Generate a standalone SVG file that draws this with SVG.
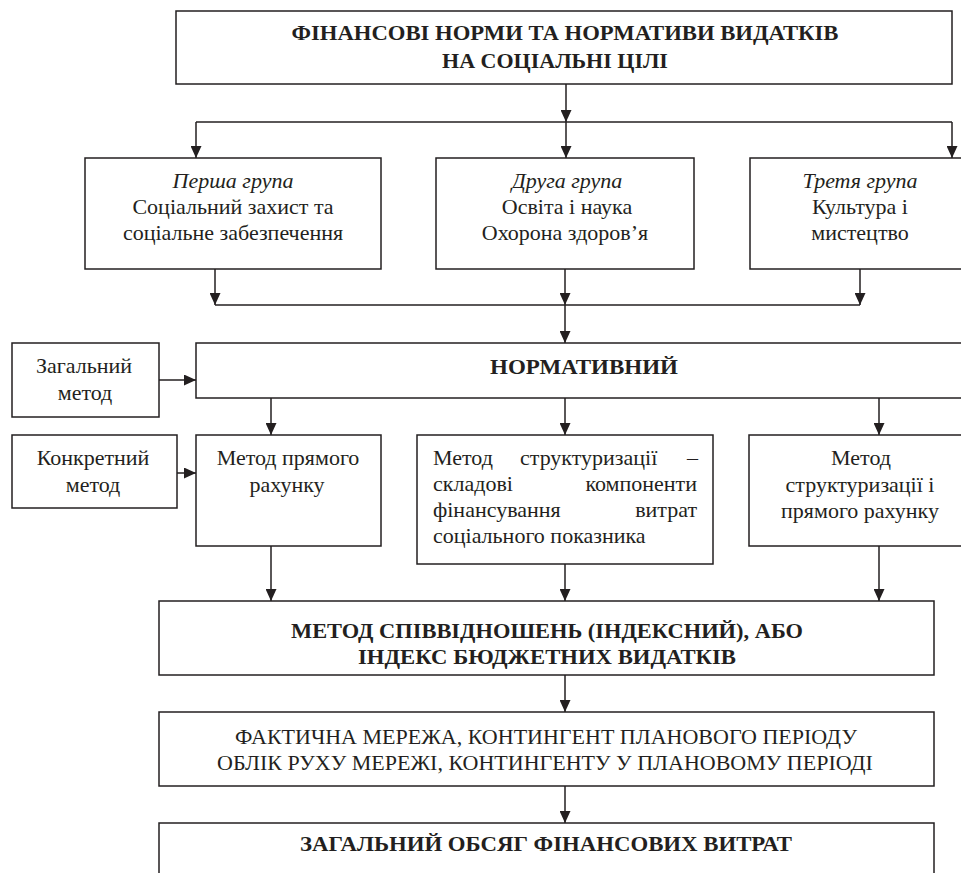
<svg xmlns="http://www.w3.org/2000/svg" width="961" height="873" viewBox="0 0 961 873">
<style>
.box{fill:#fff;stroke:#231f20;stroke-width:1.5}
.ln{fill:none;stroke:#231f20;stroke-width:1.5}
text{font-family:"Liberation Serif","Times New Roman",serif;font-size:22px;fill:#231f20}
.c{text-anchor:middle}
.b{font-weight:bold}
.i{font-style:italic}
.e{text-anchor:end}
</style>
<defs>
<marker id="ah" markerUnits="userSpaceOnUse" markerWidth="12" markerHeight="11" refX="12" refY="5.5" orient="auto">
<path d="M0,0 L12,5.5 L0,11 z" fill="#231f20"/>
</marker>
</defs>
<rect width="961" height="873" fill="#fff"/>
<g id="connectors">
<line class="ln" x1="566" y1="84" x2="566" y2="122" marker-end="url(#ah)"/>
<line class="ln" x1="196" y1="122" x2="952" y2="122"/>
<line class="ln" x1="196" y1="122" x2="196" y2="158" marker-end="url(#ah)"/>
<line class="ln" x1="566" y1="122" x2="566" y2="158" marker-end="url(#ah)"/>
<line class="ln" x1="952" y1="122" x2="952" y2="158" marker-end="url(#ah)"/>
<line class="ln" x1="215" y1="269" x2="215" y2="305" marker-end="url(#ah)"/>
<line class="ln" x1="860" y1="269" x2="860" y2="305" marker-end="url(#ah)"/>
<line class="ln" x1="565" y1="269" x2="565" y2="305" marker-end="url(#ah)"/>
<line class="ln" x1="215" y1="305" x2="860" y2="305"/>
<line class="ln" x1="565" y1="305" x2="565" y2="343" marker-end="url(#ah)"/>
<line class="ln" x1="159" y1="380" x2="196" y2="380" marker-end="url(#ah)"/>
<polygon points="140,379 127,371 135,363" fill="#231f20"/>
<line class="ln" x1="271" y1="398" x2="271" y2="435" marker-end="url(#ah)"/>
<line class="ln" x1="565" y1="398" x2="565" y2="435" marker-end="url(#ah)"/>
<line class="ln" x1="879" y1="398" x2="879" y2="435" marker-end="url(#ah)"/>
<line class="ln" x1="177" y1="473" x2="196" y2="473" marker-end="url(#ah)"/>
<line class="ln" x1="271" y1="546" x2="271" y2="601" marker-end="url(#ah)"/>
<line class="ln" x1="565" y1="564" x2="565" y2="601" marker-end="url(#ah)"/>
<line class="ln" x1="879" y1="546" x2="879" y2="601" marker-end="url(#ah)"/>
<line class="ln" x1="565" y1="675" x2="565" y2="712" marker-end="url(#ah)"/>
<line class="ln" x1="565" y1="786" x2="565" y2="823" marker-end="url(#ah)"/>
</g>
<g id="title">
<rect class="box" x="176" y="11" width="776" height="73"/>
<text class="c b" x="565" y="40" textLength="547" lengthAdjust="spacingAndGlyphs">ФІНАНСОВІ НОРМИ ТА НОРМАТИВИ ВИДАТКІВ</text>
<text class="c b" x="555" y="68">НА СОЦІАЛЬНІ ЦІЛІ</text>
</g>
<g id="group1">
<rect class="box" x="85" y="158" width="296" height="111"/>
<text class="c i" x="233" y="188">Перша група</text>
<text class="c" x="233" y="214">Соціальний захист та</text>
<text class="c" x="233" y="240">соціальне забезпечення</text>
</g>
<g id="group2">
<rect class="box" x="436" y="158" width="258" height="111"/>
<text class="c i" x="567" y="188">Друга група</text>
<text class="c" x="567" y="214">Освіта і наука</text>
<text class="c" x="565" y="240">Охорона здоров’я</text>
</g>
<g id="group3">
<rect class="box" x="750" y="158" width="222" height="111"/>
<text class="c i" x="860" y="188">Третя група</text>
<text class="c" x="860" y="214">Культура і</text>
<text class="c" x="860" y="240">мистецтво</text>
</g>
<g id="general">
<rect class="box" x="12" y="343" width="147" height="74"/>
<text class="c" x="84" y="373">Загальний</text>
<text class="c" x="85" y="400">метод</text>
</g>
<g id="normative">
<rect class="box" x="196" y="343" width="776" height="55"/>
<text class="c b" x="584" y="374" textLength="188" lengthAdjust="spacingAndGlyphs">НОРМАТИВНИЙ</text>
</g>
<g id="specific">
<rect class="box" x="12" y="435" width="165" height="73"/>
<text class="c" x="93" y="465">Конкретний</text>
<text class="c" x="93" y="492">метод</text>
</g>
<g id="method1">
<rect class="box" x="196" y="435" width="185" height="111"/>
<text class="c" x="288" y="465">Метод прямого</text>
<text class="c" x="287" y="492">рахунку</text>
</g>
<g id="method2">
<rect class="box" x="417" y="435" width="296" height="129"/>
<text x="433" y="465">Метод</text>
<text x="520" y="465">структуризації</text>
<text class="e" x="698" y="465">–</text>
<text x="433" y="491">складові</text>
<text class="e" x="697" y="491">компоненти</text>
<text x="433" y="517">фінансування</text>
<text class="e" x="697" y="517">витрат</text>
<text x="433" y="543">соціального показника</text>
</g>
<g id="method3">
<rect class="box" x="749" y="435" width="223" height="111"/>
<text class="c" x="861" y="465">Метод</text>
<text class="c" x="860" y="492">структуризації і</text>
<text class="c" x="860" y="518">прямого рахунку</text>
</g>
<g id="index">
<rect class="box" x="159" y="601" width="775" height="74"/>
<text class="c b" x="547" y="638" textLength="512" lengthAdjust="spacingAndGlyphs">МЕТОД СПІВВІДНОШЕНЬ (ІНДЕКСНИЙ), АБО</text>
<text class="c b" x="547" y="664" textLength="378" lengthAdjust="spacingAndGlyphs">ІНДЕКС БЮДЖЕТНИХ ВИДАТКІВ</text>
</g>
<g id="network">
<rect class="box" x="159" y="712" width="775" height="74"/>
<text class="c" x="546" y="744">ФАКТИЧНА МЕРЕЖА, КОНТИНГЕНТ ПЛАНОВОГО ПЕРІОДУ</text>
<text class="c" x="545" y="770">ОБЛІК РУХУ МЕРЕЖІ, КОНТИНГЕНТУ У ПЛАНОВОМУ ПЕРІОДІ</text>
</g>
<g id="total">
<rect class="box" x="159" y="823" width="775" height="80"/>
<text class="c b" x="546" y="851" textLength="492" lengthAdjust="spacingAndGlyphs">ЗАГАЛЬНИЙ ОБСЯГ ФІНАНСОВИХ ВИТРАТ</text>
</g>
</svg>
